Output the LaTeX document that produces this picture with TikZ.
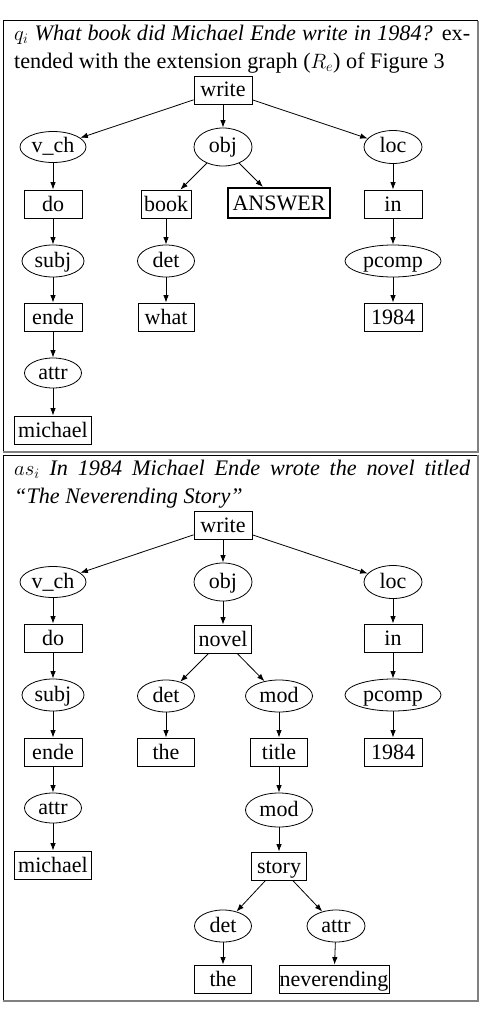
\documentclass[tikz,border=0pt]{standalone}
\usepackage{fontspec}
\setmainfont{Liberation Serif}
\usetikzlibrary{shapes.geometric,arrows.meta}
\newcommand{\nodefont}{\fontsize{22}{26}\selectfont}
\newcommand{\headfont}{\fontsize{22.2}{28}\selectfont}
\begin{document}
\begin{tikzpicture}[x=1pt,y=-1pt,
  wbox/.style={draw, rectangle, inner sep=0pt, minimum height=28pt, text height=16pt, text depth=2pt, line width=0.8pt, font=\nodefont},
  ell/.style={draw, ellipse, inner sep=0pt, minimum height=32pt, text height=15pt, text depth=3pt, line width=0.8pt, font=\nodefont},
  arr/.style={-{Latex[length=7.5pt,width=5.5pt]}, line width=0.8pt},
  frame/.style={line width=1pt, black},
  shadow/.style={line width=2pt, black!50},
  head/.style={anchor=north west, inner sep=0pt, align=left, font=\headfont}]
\useasboundingbox[fill=white] (0,0) rectangle (480,1014);
% frames
\draw[frame] (3,452) -- (3,21) -- (478,21);
\draw[shadow] (478,21) -- (478,452) -- (3,452);
\draw[frame] (3,1001) -- (3,455) -- (478,455);
\draw[shadow] (478,455) -- (478,1001) -- (3,1001);
% headers
\node[head] (h1) at (14,25) {\makebox[456pt][s]{$q_i$ \textit{What book did Michael Ende write in 1984?} ex-}\\ tended with the extension graph ($R_e$) of Figure 3};
\node[head] (h2) at (14,460) {\makebox[456pt][s]{$as_i$ \textit{In 1984 Michael Ende wrote the novel titled}}\\ \textit{“The Neverending Story”}};
% top panel
\node[wbox, minimum width=58pt] (w1) at (223,90) {write};
\node[ell, minimum width=66pt, minimum height=31pt] (vch1) at (53,147) {v\_ch};
\node[ell, minimum width=58pt, minimum height=38pt] (obj1) at (223,147) {obj};
\node[ell, minimum width=58pt, minimum height=33pt] (loc1) at (393,147) {loc};
\node[wbox, minimum width=58pt] (do1) at (53,204) {do};
\node[wbox, minimum width=50pt] (book1) at (166,204) {book};
\node[wbox, minimum width=102pt, minimum height=30pt, line width=2pt] (ans1) at (279,203) {ANSWER};
\node[wbox, minimum width=58pt] (in1) at (393,204) {in};
\node[ell, minimum width=62pt] (subj1) at (53,261) {subj};
\node[ell, minimum width=57pt] (det1) at (166,261) {det};
\node[ell, minimum width=96pt] (pcomp1) at (393,261) {pcomp};
\node[wbox, minimum width=58pt] (ende1) at (53,317) {ende};
\node[wbox, minimum width=56pt] (what1) at (166,317) {what};
\node[wbox, minimum width=58pt] (yr1) at (393,317) {1984};
\node[ell, minimum width=57pt, minimum height=30pt] (attr1) at (53,373) {attr};
\node[wbox, minimum width=77pt] (mich1) at (53,430) {michael};
\draw[arr] (w1) -- (vch1);
\draw[arr] (w1) -- (obj1);
\draw[arr] (w1) -- (loc1);
\draw[arr] (vch1) -- (do1);
\draw[arr] (do1) -- (subj1);
\draw[arr] (subj1) -- (ende1);
\draw[arr] (ende1) -- (attr1);
\draw[arr] (attr1) -- (mich1);
\draw[arr] (obj1) -- (book1);
\draw[arr] (obj1) -- (ans1);
\draw[arr] (book1) -- (det1);
\draw[arr] (det1) -- (what1);
\draw[arr] (loc1) -- (in1);
\draw[arr] (in1) -- (pcomp1);
\draw[arr] (pcomp1) -- (yr1);
% bottom panel
\node[wbox, minimum width=58pt] (w2) at (223,525) {write};
\node[ell, minimum width=66pt, minimum height=31pt] (vch2) at (53,582) {v\_ch};
\node[ell, minimum width=58pt, minimum height=38pt] (obj2) at (223,582) {obj};
\node[ell, minimum width=58pt, minimum height=33pt] (loc2) at (393,582) {loc};
\node[wbox, minimum width=58pt] (do2) at (53,638) {do};
\node[wbox, minimum width=57pt] (novel) at (223,639) {novel};
\node[wbox, minimum width=58pt] (in2) at (393,638) {in};
\node[ell, minimum width=62pt] (subj2) at (53,695) {subj};
\node[ell, minimum width=57pt] (det2) at (166,696) {det};
\node[ell, minimum width=67pt] (mod2a) at (279,696) {mod};
\node[ell, minimum width=96pt] (pcomp2) at (393,695) {pcomp};
\node[wbox, minimum width=58pt] (ende2) at (53,752) {ende};
\node[wbox, minimum width=57pt] (the2) at (166,752) {the};
\node[wbox, minimum width=57pt] (title) at (279,752) {title};
\node[wbox, minimum width=58pt] (yr2) at (393,752) {1984};
\node[ell, minimum width=57pt, minimum height=30pt] (attr2) at (53,808) {attr};
\node[ell, minimum width=67pt, minimum height=34pt] (mod2b) at (279,810) {mod};
\node[wbox, minimum width=77pt] (mich2) at (53,865) {michael};
\node[wbox, minimum width=55pt] (story) at (279,866) {story};
\node[ell, minimum width=57pt] (det3) at (223,926) {det};
\node[ell, minimum width=58pt] (attr3) at (336,926) {attr};
\node[wbox, minimum width=57pt] (the3) at (223,979) {the};
\node[wbox, minimum width=110pt] (never) at (334,979) {neverending};
\draw[arr] (w2) -- (vch2);
\draw[arr] (w2) -- (obj2);
\draw[arr] (w2) -- (loc2);
\draw[arr] (vch2) -- (do2);
\draw[arr] (do2) -- (subj2);
\draw[arr] (subj2) -- (ende2);
\draw[arr] (ende2) -- (attr2);
\draw[arr] (attr2) -- (mich2);
\draw[arr] (obj2) -- (novel);
\draw[arr] (novel) -- (det2);
\draw[arr] (novel) -- (mod2a);
\draw[arr] (det2) -- (the2);
\draw[arr] (mod2a) -- (title);
\draw[arr] (title) -- (mod2b);
\draw[arr] (mod2b) -- (story);
\draw[arr] (story) -- (det3);
\draw[arr] (story) -- (attr3);
\draw[arr] (det3) -- (the3);
\draw[arr] (attr3) -- (never);
\draw[arr] (loc2) -- (in2);
\draw[arr] (in2) -- (pcomp2);
\draw[arr] (pcomp2) -- (yr2);
\end{tikzpicture}
\end{document}
